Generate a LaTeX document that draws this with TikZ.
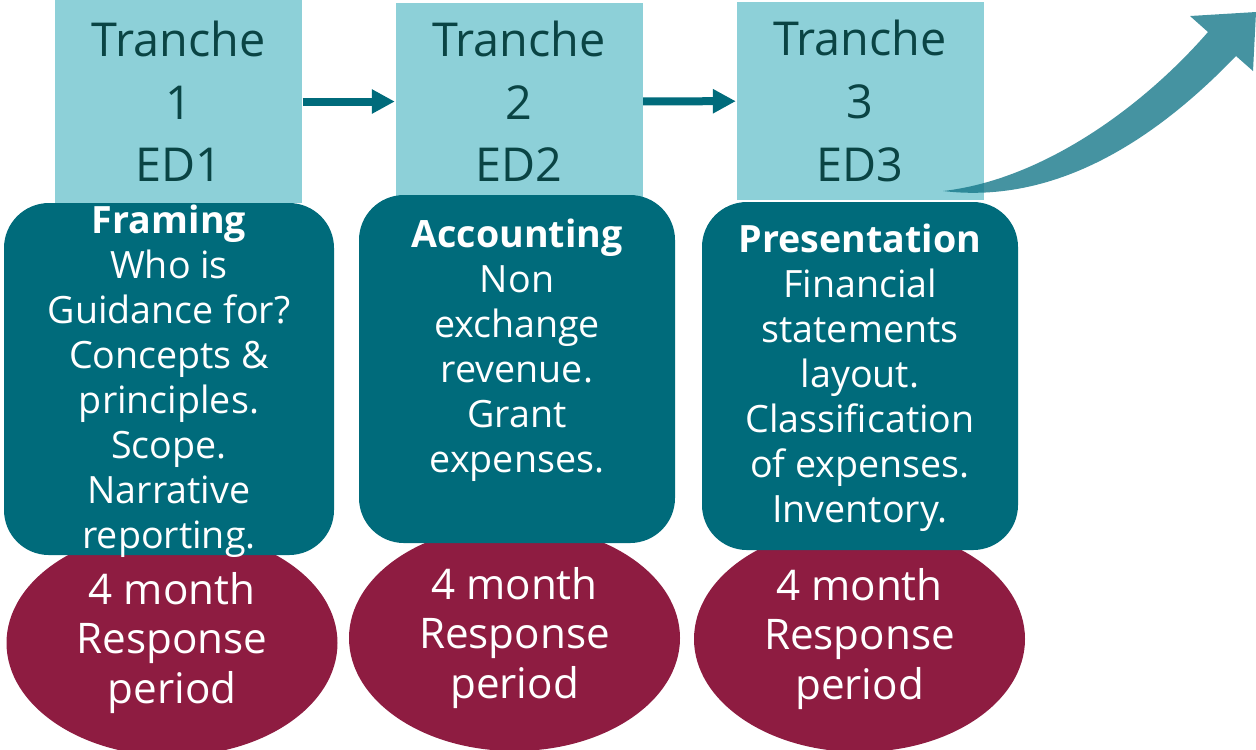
\documentclass[tikz,border=0pt]{standalone}
\usepackage{fontspec}
\setmainfont{Open Sans}
\usetikzlibrary{arrows.meta,shapes.geometric,positioning}
\definecolor{tranchefill}{RGB}{141,208,216}
\definecolor{tranchetext}{RGB}{10,68,68}
\definecolor{scopefill}{RGB}{0,107,123}
\definecolor{responsefill}{RGB}{142,28,65}
\definecolor{nextfill}{RGB}{22,120,138}
\begin{document}
\begin{tikzpicture}[
    tranche/.style={fill=tranchefill, text=tranchetext, minimum width=2.47cm, minimum height=1.98cm, inner sep=0pt, align=center, font=\fontsize{13.3}{17.8}\selectfont},
    scope box/.style={fill=scopefill, rounded corners=0.45cm, minimum width=3.16cm, minimum height=3.48cm, inner sep=0pt},
    scope text/.style={text=white, align=center, inner sep=0pt, font=\fontsize{10.7}{12.8}\selectfont},
    response/.style={ellipse, fill=responsefill, text=white, minimum width=3.31cm, minimum height=2.26cm, inner sep=0pt, align=center, font=\fontsize{12}{14.2}\selectfont},
    link/.style={draw=scopefill, line width=0.08cm, -{Triangle[length=0.23cm, width=0.23cm]}}]
    \useasboundingbox (0,0) rectangle (12.56,-7.49);
    % tranches
    \node[tranche, minimum height=2.03cm] (t1) at (1.785,-1.015) {Tranche\\1\\ED1};
    \node[tranche] (t2) at (5.19,-1.015) {Tranche\\2\\ED2};
    \node[tranche] (t3) at (8.60,-1.01) {Tranche\\3\\ED3};
    \draw[link] (t1) -- (t2);
    \draw[link] (t2) -- (t3);
    % response periods
    \node[response] (r1) at (1.72,-6.43) {4 month\\Response\\period};
    \node[response] (r2) at (5.145,-6.38) {4 month\\Response\\period};
    \node[response] (r3) at (8.595,-6.39) {4 month\\Response\\period};
    % scope of each tranche
    \node[scope box, minimum width=3.30cm, minimum height=3.52cm] (s1) at (1.69,-3.79) {};
    \node[scope box] (s2) at (5.17,-3.69) {};
    \node[scope box] (s3) at (8.60,-3.76) {};
    \node[scope text, yshift=-0.02cm] (s1txt) at (s1) {\textbf{Framing}\\Who is\\Guidance for?\\Concepts \&\\principles.\\Scope.\\Narrative\\reporting.};
    \node[scope text, yshift=0.19cm] (s2txt) at (s2) {\textbf{Accounting}\\Non\\exchange\\revenue.\\Grant\\expenses.};
    \node[scope text, yshift=-0.02cm] (s3txt) at (s3) {\textbf{Presentation}\\Financial\\statements\\layout.\\Classification\\of expenses.\\Inventory.};
    % onward arrow
    \fill[nextfill, fill opacity=0.8] (9.43,-1.91) .. controls (10.4,-1.80) and (11.4,-1.10) .. (12.08,-0.32)
        -- (11.90,-0.16) -- (12.56,-0.12) -- (12.53,-0.71) -- (12.36,-0.56)
        .. controls (11.6,-1.35) and (10.6,-2.05) .. (9.43,-1.91) -- cycle;
\end{tikzpicture}
\end{document}
